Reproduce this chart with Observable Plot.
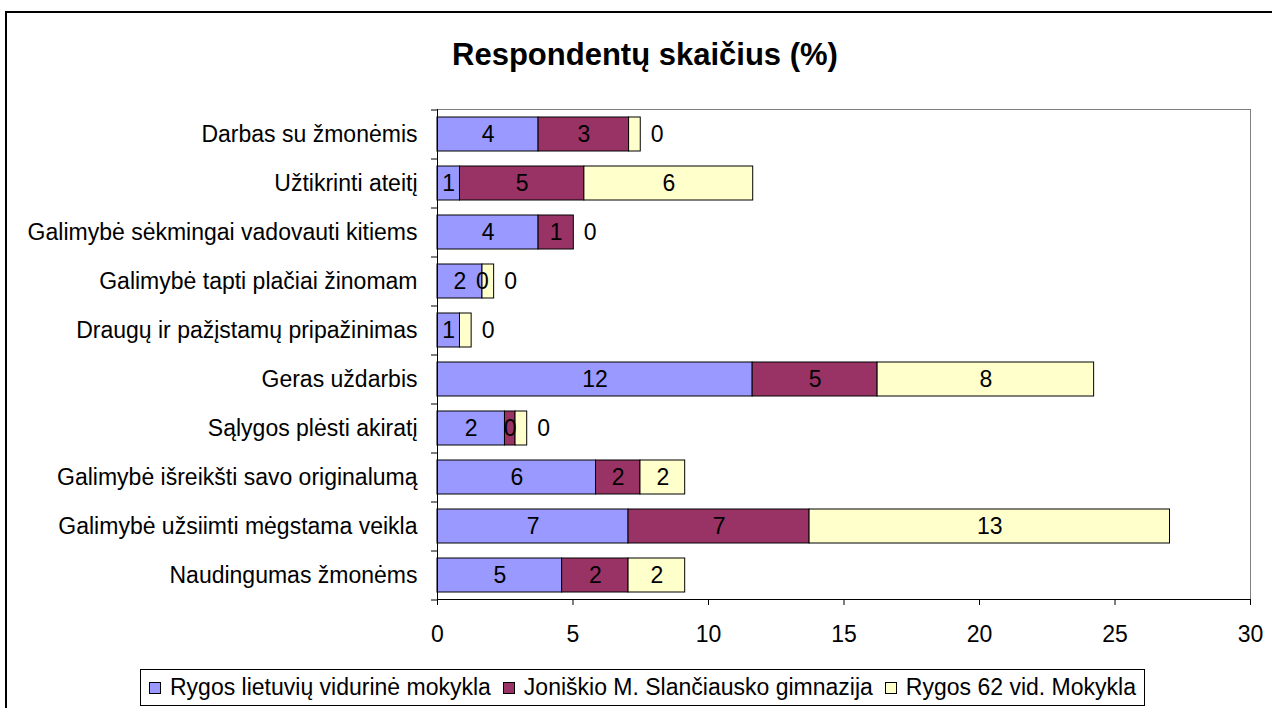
<!DOCTYPE html>
<html>
<head>
<meta charset="utf-8">
<script src="https://cdn.jsdelivr.net/npm/d3@7"></script>
<script src="https://cdn.jsdelivr.net/npm/@observablehq/plot@0.6"></script>
<style>
  html, body { margin: 0; padding: 0; background: #fff; }
  #wrap { position: relative; width: 1272px; height: 708px; overflow: hidden; font-family: "Liberation Sans", Arial, sans-serif; }
  #border { position: absolute; left: 5px; top: 11px; width: 1400px; height: 900px; border: 2px solid #000; box-sizing: border-box; }
  #chart { position: absolute; left: 0; top: 0; }
  #title { position: absolute; left: 345px; width: 600px; top: 38px; height: 34px; line-height: 34px; text-align: center; font-weight: bold; font-size: 31px; color: #000; }
  #legend { position: absolute; left: 140px; top: 669px; width: 1005px; height: 37px; border: 1px solid #000; box-sizing: border-box; background: #fff; display: flex; align-items: center; padding-left: 8px; font-size: 23px; color: #000; white-space: nowrap; }
  .item { display: flex; align-items: center; margin-right: 12px; }
  .sw { width: 12px; height: 12px; border: 1px solid #000; box-sizing: border-box; margin-right: 9px; }
</style>
</head>
<body>
<div id="wrap">
  <div id="border"></div>
  <div id="chart"></div>
  <div id="title">Respondentų skaičius (%)</div>
  <div id="legend"></div>
</div>
<script>
const categories = [
  "Darbas su žmonėmis",
  "Užtikrinti ateitį",
  "Galimybė sėkmingai vadovauti kitiems",
  "Galimybė tapti plačiai žinomam",
  "Draugų ir pažįstamų pripažinimas",
  "Geras uždarbis",
  "Sąlygos plėsti akiratį",
  "Galimybė išreikšti savo originalumą",
  "Galimybė užsiimti mėgstama veikla",
  "Naudingumas žmonėms"
];
const seriesNames = [
  "Rygos lietuvių vidurinė mokykla",
  "Joniškio M. Slančiausko gimnazija",
  "Rygos 62 vid. Mokykla"
];
const seriesColors = ["#9999FF", "#993366", "#FFFFCC"];
const rygosLietuviu = [3.73, 0.83, 3.73, 1.66, 0.83, 11.63, 2.49, 5.85, 7.05, 4.60];
const joniskio = [3.34, 4.59, 1.30, 0, null, 4.61, 0.39, 1.64, 6.68, 2.45];
const rygos62 = [0.43, 6.23, 0, 0.43, 0.43, 7.99, 0.43, 1.65, 13.30, 2.09];
const xTicks = [0, 5, 10, 15, 20, 25, 30];

const seriesValues = [rygosLietuviu, joniskio, rygos62];
const table = [];
seriesNames.forEach((s, si) => {
  categories.forEach((c, ci) => {
    const v = seriesValues[si][ci];
    if (v !== null) table.push({cat: c, series: s, si, value: v});
  });
});

const W = 1272, H = 708;
const mTop = 109, mBottom = 109, mLeft = 437, mRight = 22;
const step = (H - mTop - mBottom) / categories.length;
const font = "Liberation Sans, Arial, sans-serif";

const isOutside = d => d.si === 2 && d.value < 1;

const chart = Plot.plot({
  width: W,
  height: H,
  marginTop: mTop,
  marginBottom: mBottom,
  marginLeft: mLeft,
  marginRight: mRight,
  style: {fontFamily: font, fontSize: "23px", background: "transparent", color: "#000"},
  x: {domain: [0, 30]},
  y: {domain: categories, paddingInner: 0.31, paddingOuter: 0.155},
  color: {domain: seriesNames, range: seriesColors},
  marks: [
    Plot.frame({stroke: "#808080", fill: "#fff"}),
    Plot.barX(table, Plot.stackX({y: "cat", x: "value", z: "series", fill: "series", stroke: "#000", strokeWidth: 1})),
    Plot.text(table, Plot.stackX({y: "cat", x: "value", z: "series", text: d => isOutside(d) ? "" : String(Math.round(d.value)), fill: "#000", fontSize: 23})),
    Plot.text(table, Plot.stackX2({y: "cat", x: "value", z: "series", text: d => isOutside(d) ? String(Math.round(d.value)) : "", fill: "#000", fontSize: 23, textAnchor: "start", dx: 10})),
    Plot.frame({anchor: "left", stroke: "#000"}),
    Plot.frame({anchor: "bottom", stroke: "#000"}),
    Plot.axisX(xTicks, {tickSize: 6, tickPadding: 20, fontSize: 23, label: null, stroke: "#000"}),
    Plot.axisY({tickSize: 0, tickPadding: 20, fontSize: 23, label: null}),
    Plot.axisY({text: null, tickSize: 6, dy: -step / 2, label: null}),
    Plot.axisY([categories[categories.length - 1]], {text: null, tickSize: 6, dy: step / 2, label: null})
  ]
});
document.getElementById("chart").appendChild(chart);

const legend = document.getElementById("legend");
seriesNames.forEach((s, i) => {
  const item = document.createElement("div");
  item.className = "item";
  const sw = document.createElement("div");
  sw.className = "sw";
  sw.style.background = seriesColors[i];
  const t = document.createElement("span");
  t.textContent = s;
  item.appendChild(sw);
  item.appendChild(t);
  legend.appendChild(item);
});
</script>
</body>
</html>
